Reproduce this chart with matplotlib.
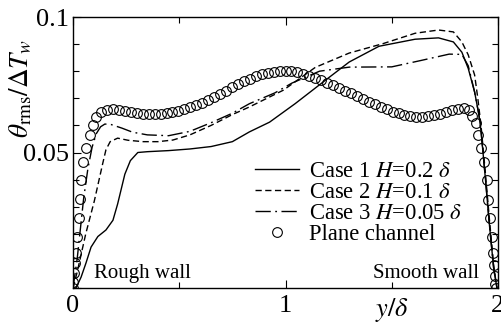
import numpy as np
import matplotlib
matplotlib.use("Agg")
from matplotlib import pyplot as plt
from matplotlib.ticker import MultipleLocator, FixedLocator

plt.rcParams['font.family'] = ['Liberation Serif', 'DejaVu Serif']
plt.rcParams['mathtext.fontset'] = 'stix'

# Case 1, H = 0.2 delta
x1 = [0.0, 0.014, 0.038, 0.061, 0.085, 0.117, 0.155, 0.188, 0.21, 0.244, 0.27, 0.305, 0.35, 0.45,
      0.55, 0.65, 0.75, 0.83, 0.925, 1.045, 1.19, 1.30, 1.44, 1.61, 1.72, 1.79, 1.83, 1.86, 1.89,
      1.91, 1.92, 1.94, 1.96, 1.98, 1.995]
y1 = [0.0, 0.0, 0.004, 0.0092, 0.0151, 0.019, 0.0214, 0.025, 0.031, 0.042, 0.047, 0.050, 0.0503, 0.0507,
      0.0513, 0.0522, 0.0540, 0.0576, 0.0612, 0.068, 0.0768, 0.0834, 0.0892, 0.0918, 0.0923, 0.0908, 0.087,
      0.081, 0.0723, 0.064, 0.058, 0.041, 0.023, 0.007, 0.0]

# Case 2, H = 0.1 delta
x2 = [0.0, 0.02, 0.04, 0.06, 0.08, 0.10, 0.12, 0.14, 0.155, 0.175, 0.21, 0.26, 0.33, 0.40, 0.47,
      0.55, 0.65, 0.75, 0.83, 0.99, 1.14, 1.30, 1.46, 1.61, 1.72, 1.79, 1.83, 1.86, 1.89, 1.905,
      1.92, 1.94, 1.96, 1.98, 1.995]
y2 = [0.0, 0.006, 0.013, 0.020, 0.026, 0.032, 0.039, 0.046, 0.051, 0.054, 0.0553, 0.0545, 0.0540, 0.0540, 0.0546,
      0.0565, 0.0600, 0.0640, 0.0668, 0.0730, 0.0814, 0.0867, 0.0902, 0.0940, 0.0952, 0.0945, 0.0908, 0.086, 0.0786, 0.070,
      0.060, 0.043, 0.025, 0.008, 0.0]

# Case 3, H = 0.05 delta
x3 = [0.0, 0.02, 0.035, 0.05, 0.07, 0.09, 0.11, 0.13, 0.15, 0.18, 0.23, 0.28, 0.35, 0.45, 0.55,
      0.65, 0.75, 0.83, 0.95, 1.03, 1.16, 1.30, 1.50, 1.64, 1.77, 1.83, 1.86, 1.89, 1.91, 1.92,
      1.94, 1.96, 1.98, 1.995]
y3 = [0.0, 0.011, 0.022, 0.033, 0.044, 0.052, 0.057, 0.0595, 0.0605, 0.0603, 0.059, 0.0575, 0.0565, 0.0562, 0.0578,
      0.0610, 0.0645, 0.0680, 0.0720, 0.0756, 0.0800, 0.0815, 0.0816, 0.0840, 0.0863, 0.0862, 0.082, 0.0723, 0.064, 0.058,
      0.041, 0.023, 0.007, 0.0]

# plane channel
xp = [0.0, 0.002, 0.005, 0.009, 0.014, 0.020, 0.026, 0.031, 0.038, 0.047, 0.061, 0.078, 0.092, 0.108, 0.130,
      0.160, 0.188, 0.216, 0.244, 0.272, 0.300, 0.328, 0.356, 0.384, 0.412, 0.440, 0.468, 0.496, 0.524, 0.552,
      0.580, 0.608, 0.636, 0.664, 0.692, 0.720, 0.748, 0.776, 0.804, 0.832, 0.860, 0.888, 0.916, 0.944, 0.972,
      1.000, 1.028, 1.056, 1.084, 1.112, 1.140, 1.168, 1.196, 1.224, 1.252, 1.280, 1.308, 1.336, 1.364, 1.392,
      1.420, 1.448, 1.476, 1.504, 1.532, 1.560, 1.588, 1.616, 1.644, 1.672, 1.700, 1.728, 1.756, 1.784, 1.812,
      1.840, 1.862, 1.880, 1.895, 1.905, 1.918, 1.935, 1.946, 1.955, 1.963, 1.970, 1.976, 1.981, 1.985, 1.988,
      1.990]
yp = [0.0, 0.0022, 0.0055, 0.0092, 0.013, 0.019, 0.026, 0.033, 0.040, 0.0465, 0.0517, 0.0565, 0.060, 0.063, 0.065,
      0.0658, 0.0660, 0.0656, 0.0652, 0.0648, 0.0645, 0.0643, 0.0642, 0.0642, 0.0643, 0.0645, 0.0649, 0.0654, 0.0660, 0.0667,
      0.0675, 0.0684, 0.0694, 0.0705, 0.0716, 0.0728, 0.0740, 0.0751, 0.0762, 0.0772, 0.0781, 0.0788, 0.0794, 0.0798, 0.0801,
      0.0802, 0.0800, 0.0796, 0.0790, 0.0783, 0.0775, 0.0767, 0.0758, 0.0748, 0.0738, 0.0728, 0.0718, 0.0708, 0.0698, 0.0688,
      0.0678, 0.0668, 0.0659, 0.0651, 0.0644, 0.0638, 0.0634, 0.0632, 0.0632, 0.0634, 0.0638, 0.0643, 0.0650, 0.0657, 0.0662,
      0.0664, 0.0655, 0.0636, 0.0610, 0.0565, 0.0517, 0.0465, 0.040, 0.0325, 0.026, 0.019, 0.013, 0.0085, 0.0045, 0.0015,
      0.0]

labels = ["Case 1 $H$=0.2 $\\delta$", "Case 2 $H$=0.1 $\\delta$",
          "Case 3 $H$=0.05 $\\delta$", "Plane channel"]

fig = plt.figure(figsize=(5.02, 3.27), dpi=100)
ax = fig.add_axes([73/502, 39/327, 425/502, 271/327])

lw = 1.0
ax.plot(x1, y1, color='k', lw=lw, label=labels[0])
ax.plot(x2, y2, color='k', lw=lw, dashes=(4.5, 2.5), label=labels[1])
ax.plot(x3, y3, color='k', lw=lw, dashes=(11, 3.2, 1.3, 3.2), label=labels[2])
ax.plot(xp, yp, ls='none', marker='o', ms=7, mfc='none', mec='k', mew=0.8, label=labels[3])

ax.set_xlim(0, 2)
ax.set_ylim(0, 0.1)
ax.xaxis.set_major_locator(FixedLocator([0, 1, 2]))
ax.xaxis.set_minor_locator(FixedLocator([0.5, 1.5]))
ax.yaxis.set_major_locator(FixedLocator([0, 0.05, 0.1]))
ax.yaxis.set_minor_locator(MultipleLocator(0.01))
ax.set_xticklabels(["0", "1", "2"])
ax.set_yticklabels(["", "0.05", "0.1"])
ax.tick_params(which='both', direction='in', top=True, right=True, width=0.8, labelsize=19)
ax.tick_params(which='major', length=6)
ax.tick_params(which='minor', length=4)
ax.tick_params(axis='x', pad=5)
ax.tick_params(axis='y', pad=3)
for s in ax.spines.values():
    s.set_linewidth(1.0)

ax.set_xlabel("$y/\\delta$", fontsize=19)
ax.xaxis.set_label_coords(0.75, -0.03)
ax.set_ylabel("$\\theta_{\\rm rms}/\\Delta T_w$", fontsize=19.5)
ax.yaxis.set_label_coords(-0.09, 0.735)

ax.text(0.05, 0.055, "Rough wall", transform=ax.transAxes, fontsize=15, va='center', ha='left')
ax.text(0.955, 0.055, "Smooth wall", transform=ax.transAxes, fontsize=15, va='center', ha='right')

ax.legend(loc='upper left', bbox_to_anchor=(0.428, 0.468), frameon=False, fontsize=16.3,
          handlelength=1.95, handletextpad=0.45, labelspacing=0.0, borderpad=0, borderaxespad=0)

fig.savefig("out.png", dpi=100)
